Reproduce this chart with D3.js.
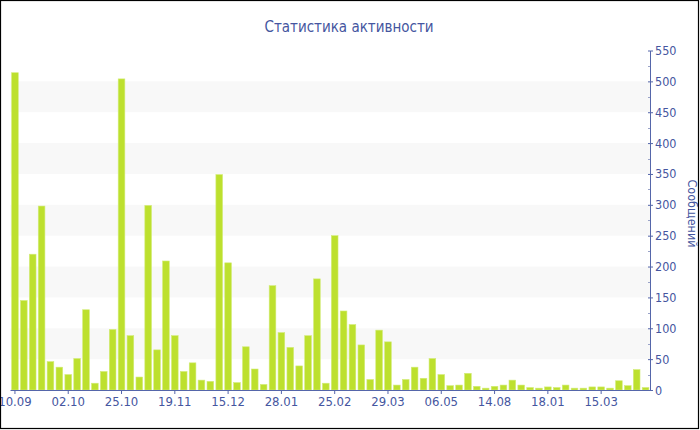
<!DOCTYPE html>
<html>
<head>
<meta charset="utf-8">
<script src="https://cdn.jsdelivr.net/npm/d3@7"></script>
<style>
  html, body { margin: 0; padding: 0; background: #fff; }
  svg { display: block; }
  text { font-family: "DejaVu Sans Condensed", "DejaVu Sans", sans-serif; }
</style>
</head>
<body>
<svg id="chart" width="700" height="430"></svg>
<script>
// ---- data ----
const title = "Статистика активности";
const yTitle = "Сообщений";
const categories = d3.range(72); // period index
const values = [
  514, 145, 220, 298, 46, 37, 25, 51, 130, 11, 30, 98,
  504, 88, 21, 299, 65, 209, 88, 30, 44, 16, 14, 349,
  206, 12, 70, 34, 9, 169, 93, 69, 39, 88, 180, 11,
  250, 128, 106, 73, 17, 97, 78, 8, 17, 37, 19, 51,
  25, 7, 8, 27, 6, 3, 6, 8, 16, 8, 4, 3,
  5, 4, 8, 3, 3, 5, 5, 3, 15, 7, 33, 4
];
const tickLabels = ["10.09", "02.10", "25.10", "19.11", "15.12", "28.01",
                    "25.02", "29.03", "06.05", "14.08", "18.01", "15.03"];
const yTicks = [0, 50, 100, 150, 200, 250, 300, 350, 400, 450, 500, 550];

// ---- layout ----
const svg = d3.select("#chart");
const pLeft = 10.5, pRight = 650, pTop = 50.5, pBottom = 390;
const textColor = "#4556a0";
const axisColor = "#5566aa";

const x = d3.scaleBand().domain(categories).range([pLeft, pRight])
  .paddingInner(0.25).paddingOuter(0.125);
const y = d3.scaleLinear().domain([0, 550]).range([pBottom, pTop]);

// alternating bands
const bands = yTicks.slice(0, -1).filter((d, i) => i % 2 === 1);
svg.append("g").selectAll("rect").data(bands).join("rect")
  .attr("x", pLeft).attr("width", pRight - pLeft)
  .attr("y", d => y(d + 50)).attr("height", d => y(d) - y(d + 50))
  .attr("fill", "#f8f8f8");

// bars
svg.append("g").selectAll("rect").data(values).join("rect")
  .attr("x", (d, i) => x(categories[i]))
  .attr("width", x.bandwidth())
  .attr("y", d => y(d))
  .attr("height", d => y(0) - y(d))
  .attr("fill", "#bde02e")
  .attr("stroke", "#d2ec78")
  .attr("stroke-width", 0.6);

// x axis
const xAxis = d3.axisBottom(x)
  .tickValues(categories.filter(i => i % 6 === 0))
  .tickFormat(i => tickLabels[i / 6])
  .tickSize(4).tickSizeOuter(0).tickPadding(3);
const gx = svg.append("g").attr("transform", `translate(0,${pBottom})`).call(xAxis);
gx.select(".domain").attr("stroke", axisColor).attr("d", `M${pLeft},0.5H${pRight}`);
gx.selectAll(".tick line").attr("stroke", axisColor);
gx.selectAll(".tick text").attr("fill", textColor).attr("font-size", 13)
  .attr("font-family", "'DejaVu Sans Condensed', 'DejaVu Sans', sans-serif");

// y axis (right)
const minor = d3.range(25, 550, 50);
svg.append("g").selectAll("line").data(minor).join("line")
  .attr("x1", pRight - 2).attr("x2", pRight)
  .attr("y1", d => Math.round(y(d)) + 0.5).attr("y2", d => Math.round(y(d)) + 0.5)
  .attr("stroke", "#9aa3c8");
const yAxis = d3.axisRight(y).tickValues(yTicks).tickSize(3).tickSizeOuter(0).tickPadding(2);
const gy = svg.append("g").attr("transform", `translate(${pRight},0)`).call(yAxis);
gy.select(".domain").attr("stroke", axisColor);
gy.selectAll(".tick line").attr("stroke", axisColor).attr("x1", -2);
gy.selectAll(".tick text").attr("fill", textColor).attr("font-size", 12.5)
  .attr("font-family", "'DejaVu Sans Condensed', 'DejaVu Sans', sans-serif");

// y axis title
svg.append("text")
  .attr("transform", `translate(688,213.5) rotate(90)`)
  .attr("text-anchor", "middle")
  .attr("fill", textColor)
  .attr("font-size", 12.5)
  .text(yTitle);

// title
svg.append("text")
  .attr("x", 349).attr("y", 31.5)
  .attr("text-anchor", "middle")
  .attr("fill", textColor)
  .attr("font-size", 15)
  .text(title);

// border
svg.append("rect").attr("x", 0.5).attr("y", 0.5).attr("width", 698).attr("height", 428)
  .attr("fill", "none").attr("stroke", "#000").attr("stroke-width", 1.2);
</script>
</body>
</html>
